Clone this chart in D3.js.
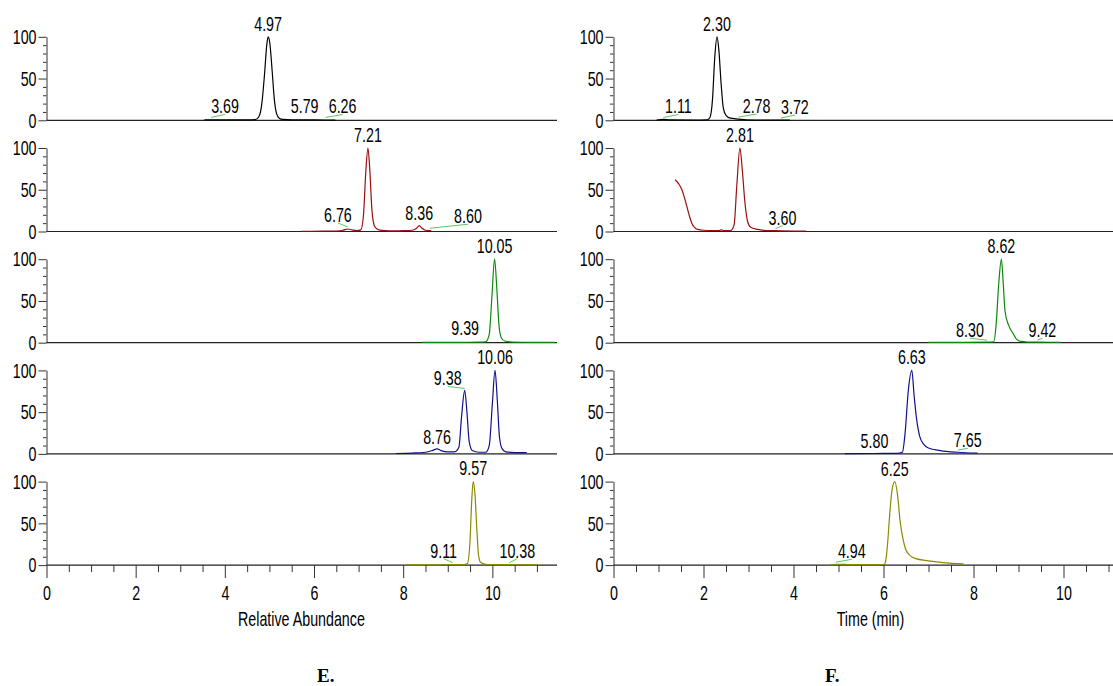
<!DOCTYPE html>
<html>
<head>
<meta charset="utf-8">
<script src="https://cdn.jsdelivr.net/npm/d3@7"></script>
<style>
  body { margin: 0; background: #fff; }
  svg { display: block; }
</style>
</head>
<body>
<div class="chart"></div>
<script>
// Chromatogrammes : [temps (min), abondance relative %]
const traceE1 = [[3.54,0.4],[4.0,0.4],[4.5,0.5],[4.68,0.8],[4.76,4],[4.83,20],[4.89,55],[4.94,90],[4.97,100],[5.01,92],[5.06,60],[5.11,25],[5.16,8],[5.22,2.5],[5.3,1],[5.5,0.5],[6.0,0.4],[6.48,0.3]];
const traceE2 = [[5.72,0.3],[6.2,0.4],[6.5,0.6],[6.65,1.5],[6.76,3],[6.85,2],[6.95,1],[7.05,2],[7.11,20],[7.16,70],[7.21,100],[7.25,75],[7.30,25],[7.36,6],[7.45,2],[7.6,1],[7.8,0.8],[8.0,1],[8.2,1.5],[8.3,4],[8.36,7],[8.42,4],[8.5,1.5],[8.63,1]];
const traceE3 = [[8.43,0.3],[9.0,0.3],[9.39,0.5],[9.7,0.6],[9.85,1],[9.93,10],[9.99,55],[10.05,100],[10.10,65],[10.15,20],[10.2,6],[10.28,2],[10.45,0.8],[10.8,0.5],[11.4,0.3]];
const traceE4 = [[7.83,0.5],[8.2,1],[8.5,2],[8.65,4],[8.76,6],[8.85,4],[9.0,2.5],[9.15,2.5],[9.25,8],[9.31,45],[9.38,76],[9.43,50],[9.48,15],[9.55,4],[9.7,2],[9.85,2],[9.93,10],[10.0,60],[10.06,100],[10.11,65],[10.16,20],[10.22,6],[10.3,2.5],[10.5,1.5],[10.77,1.5]];
const traceE5 = [[8.04,0.3],[8.6,0.3],[9.11,0.5],[9.35,0.5],[9.44,2],[9.5,30],[9.54,80],[9.57,100],[9.61,85],[9.65,45],[9.69,12],[9.74,3],[9.85,1],[10.0,0.5],[10.38,0.5],[11.02,0.3]];

const traceF1 = [[0.96,0.3],[1.11,1],[1.25,0.5],[1.8,0.3],[2.08,0.5],[2.14,3],[2.2,25],[2.25,75],[2.30,100],[2.34,85],[2.39,45],[2.44,15],[2.5,6],[2.6,2.5],[2.78,1.5],[2.95,0.6],[3.3,0.3],[3.72,0.3],[3.92,0.3]];
const traceF2 = [[1.37,62],[1.45,57],[1.52,50],[1.58,40],[1.63,30],[1.69,18],[1.74,10],[1.8,5],[1.87,2.5],[2.0,1.5],[2.2,1.2],[2.35,1.2],[2.4,2],[2.45,1],[2.6,1],[2.68,8],[2.74,55],[2.81,100],[2.86,75],[2.92,35],[2.98,12],[3.05,5],[3.2,2.5],[3.4,1.2],[3.6,1],[4.0,0.6],[4.28,0.5]];
const traceF3 = [[7.0,0.5],[7.8,0.5],[8.30,0.6],[8.45,1],[8.50,20],[8.56,70],[8.62,100],[8.66,72],[8.70,38],[8.78,21],[8.88,11],[8.96,4],[9.05,1.5],[9.2,0.8],[9.42,0.6],[9.94,0.5]];
const traceF4 = [[5.14,0.3],[5.8,0.5],[6.3,0.6],[6.42,2],[6.48,25],[6.55,75],[6.63,100],[6.68,70],[6.73,44],[6.8,22],[6.9,11],[7.0,7],[7.26,4],[7.65,2],[8.09,1]];
const traceF5 = [[4.81,0.3],[4.94,1],[5.3,0.5],[5.9,0.5],[6.02,1],[6.04,3],[6.09,25],[6.13,55],[6.19,90],[6.25,100],[6.31,85],[6.37,52],[6.42,35],[6.5,18],[6.6,11],[6.7,8],[7.0,5],[7.32,3],[7.78,1.5]];

// étiquettes des pics : [temps, abondance au point annoté]
const peaksE1 = [[4.97,100],[3.69,1],[5.79,1],[6.26,1]];
const peaksE2 = [[7.21,100],[6.76,3],[8.36,7],[8.60,1.5]];
const peaksE3 = [[10.05,100],[9.39,0.5]];
const peaksE4 = [[10.06,100],[9.38,76],[8.76,6]];
const peaksE5 = [[9.57,100],[9.11,0.5],[10.38,0.5]];
const peaksF1 = [[2.30,100],[1.11,1],[2.78,1.5],[3.72,0.3]];
const peaksF2 = [[2.81,100],[3.60,1]];
const peaksF3 = [[8.62,100],[8.30,0.6],[9.42,0.6]];
const peaksF4 = [[6.63,100],[5.80,0.5],[7.65,2]];
const peaksF5 = [[6.25,100],[4.94,1]];

// décalage des étiquettes en px (dx, dy) ; dx != 0 => trait de rappel vert
const offsetsE = [
  [[0,-6],[14,-6],[0,-6],[17,-6]],
  [[0,-6],[-10,-7],[0,-6],[38,-7]],
  [[0,-6],[0,-7]],
  [[0,-6],[-17,-5],[0,-5]],
  [[0,-7],[-9,-7],[8,-7]]
];
const offsetsF = [
  [[0,-6],[15,-6],[18,-6],[14,-6]],
  [[0,-6],[7,-6]],
  [[0,-6],[-17,-5],[5,-5]],
  [[0,-6],[0,-5],[10,-5]],
  [[0,-6],[16,-6]]
];

const xMajor = [0, 2, 4, 6, 8, 10];
const xMinor = d3.range(0, 11.01, 0.5).filter(v => v % 2 !== 0);
const yMajor = [0, 50, 100];
const yMinor = [10, 20, 30, 40, 60, 70, 80, 90];

const tracesE = [traceE1, traceE2, traceE3, traceE4, traceE5];
const tracesF = [traceF1, traceF2, traceF3, traceF4, traceF5];
const peaksE = [peaksE1, peaksE2, peaksE3, peaksE4, peaksE5];
const peaksF = [peaksF1, peaksF2, peaksF3, peaksF4, peaksF5];

// mise en page
const width = 1113;
const height = 686;
const FONT = '"Liberation Sans", Arial, sans-serif';
const FS = 21;
const SX = 0.68; // texte étroit comme dans l'original
const colors = ['#000000', '#9a0f0f', '#0a8a0a', '#10108f', '#8a8a00'];
const leaderColor = '#5cc85c';
const firstBase = 120.3;
const step = 111.2;
const panelH = 83.5;

const svg = d3.select('.chart')
  .append('svg')
  .attr('width', width)
  .attr('height', height);

function squeeze(sel) {
  sel.each(function () {
    const t = d3.select(this);
    const x = +t.attr('x') || 0;
    const y = +t.attr('y') || 0;
    t.attr('x', null).attr('y', null)
      .attr('transform', `translate(${x},${y}) scale(${SX},1)`);
  });
}

function label(sel) {
  sel.attr('font-size', FS).attr('font-family', FONT).attr('fill', '#000').call(squeeze);
}

function drawChart(traces, peaks, offsets, x, xTitle) {
  const x0 = x.range()[0];
  const x1 = x.range()[1];
  const line = d3.line()
    .x(d => x(d[0]))
    .curve(d3.curveMonotoneX);

  traces.forEach((trace, i) => {
    const base = firstBase + i * step;
    const y = d3.scaleLinear().domain([0, 100]).range([base, base - panelH]);
    const g = svg.append('g');

    // axe vertical
    g.append('g')
      .attr('transform', `translate(${x0},0)`)
      .call(d3.axisLeft(y).tickValues(yMinor).tickSize(3.5).tickFormat(''))
      .call(a => a.select('.domain').remove());
    g.append('g')
      .attr('transform', `translate(${x0},0)`)
      .call(d3.axisLeft(y).tickValues(yMajor).tickSize(8).tickSizeOuter(0).tickPadding(2))
      .call(a => a.selectAll('text').call(label));

    g.selectAll('.tick line, .domain').attr('stroke', '#333');

    // ligne de base
    g.append('line')
      .attr('x1', x0).attr('x2', x1)
      .attr('y1', base).attr('y2', base)
      .attr('stroke', '#222').attr('stroke-width', 1.2);

    g.append('path')
      .datum(trace)
      .attr('d', line.y(d => y(d[1])))
      .attr('fill', 'none')
      .attr('stroke', colors[i])
      .attr('stroke-width', 1.2);

    // étiquettes des pics
    peaks[i].forEach((p, j) => {
      const [dx, dy] = offsets[i][j];
      const px = x(p[0]);
      const py = y(p[1]);
      if (dx !== 0) {
        g.append('line')
          .attr('x1', px).attr('y1', py - 2)
          .attr('x2', px + dx).attr('y2', py + dy + 1)
          .attr('stroke', leaderColor).attr('stroke-width', 1);
      }
      g.append('text')
        .attr('x', px + dx).attr('y', py + dy)
        .attr('text-anchor', 'middle')
        .text(p[0].toFixed(2))
        .call(label);
    });

    if (i === traces.length - 1) {
      const ax = svg.append('g').attr('transform', `translate(0,${base})`);
      ax.append('g')
        .call(d3.axisBottom(x).tickValues(xMinor).tickSize(7).tickFormat(''))
        .call(a => a.select('.domain').remove());
      ax.append('g')
        .call(d3.axisBottom(x).tickValues(xMajor).tickSize(13).tickPadding(7))
        .call(a => a.select('.domain').remove())
        .call(a => a.selectAll('text').call(label));
      ax.selectAll('.tick line').attr('stroke', '#333');

      svg.append('text')
        .attr('x', (x0 + x(10)) / 2 + 32).attr('y', 626)
        .attr('text-anchor', 'middle')
        .text(xTitle)
        .call(label);
    }
  });
}

const xE = d3.scaleLinear().domain([0, 11.45]).range([46.5, 557]);
const xF = d3.scaleLinear().domain([0, 11.1]).range([613.5, 1113]);

drawChart(tracesE, peaksE, offsetsE, xE, 'Relative Abundance');
drawChart(tracesF, peaksF, offsetsF, xF, 'Time (min)');

// lettres des sous-figures
svg.append('text').attr('x', 317).attr('y', 682)
  .attr('font-family', '"Liberation Serif", "Times New Roman", serif')
  .attr('font-weight', 'bold').attr('font-size', 19).text('E.');
svg.append('text').attr('x', 825).attr('y', 682)
  .attr('font-family', '"Liberation Serif", "Times New Roman", serif')
  .attr('font-weight', 'bold').attr('font-size', 19).text('F.');
</script>
</body>
</html>
